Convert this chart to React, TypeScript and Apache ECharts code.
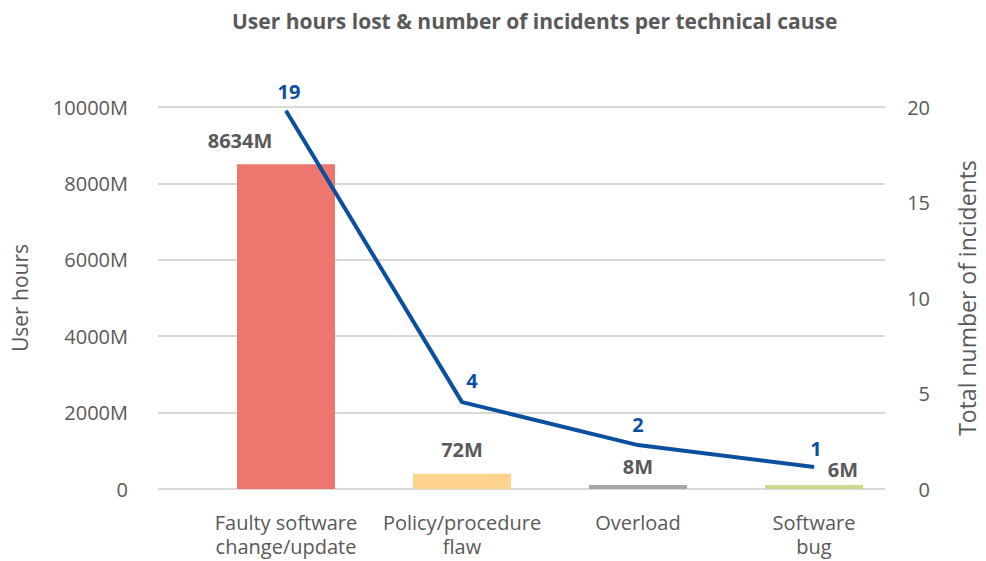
import React, { useEffect, useRef } from "react";
import * as echarts from "echarts";

const title = "User hours lost & number of incidents per technical cause";
const categories = ["Faulty software\nchange/update", "Policy/procedure\nflaw", "Overload", "Software\nbug"];
// values printed on the labels
const userHoursM = [8634, 72, 8, 6];
const incidents = [19, 4, 2, 1];
// heights as drawn in the picture (axis units)
const barDrawn = [8500, 400, 105, 105];
const lineDrawn = [19.8, 4.55, 2.3, 1.15];
const leftTicksMax = 10000;
const rightTicksMax = 20;

const barColors = ["#ED766E", "#FDD38D", "#A6A6A6", "#C9DB8C"];
const barLabelOffsets = [[-46, -9], [0, -9], [0, -3], [29, 0]];
const lineLabelOffsets = [[3, -4], [10, -6], [0, -5], [2, -3]];

const FONT = "'Open Sans', 'Noto Sans', sans-serif";
const GREY = "#595959";
const BLUE = "#0B4F9F";
const FS = 20;

export default function App() {
  const ref = useRef<HTMLDivElement>(null);
  useEffect(() => {
    if (!ref.current) return;
    const chart = echarts.init(ref.current, undefined, { renderer: "svg" });
    chart.setOption({
      animation: false,
      textStyle: { fontFamily: FONT },
      title: {
        text: title,
        left: 227,
        top: 5,
        textStyle: { fontFamily: FONT, fontSize: 21, fontWeight: "bold", color: GREY },
      },
      grid: [
        { left: 158, right: 94, top: 107, bottom: 72 },
        { left: 198, right: 84, top: 107, bottom: 72 },
      ],
      xAxis: [
        { type: "category", gridIndex: 0, data: categories, show: false },
        {
          type: "category",
          gridIndex: 1,
          data: categories,
          axisLine: { show: false },
          axisTick: { show: false },
          axisLabel: { color: GREY, fontSize: FS, fontFamily: FONT, margin: 21, lineHeight: 24, interval: 0 },
        },
      ],
      yAxis: [
        {
          type: "value",
          gridIndex: 0,
          min: 0,
          max: leftTicksMax,
          interval: 2000,
          name: "User hours",
          nameLocation: "middle",
          nameGap: 128,
          nameTextStyle: { color: GREY, fontSize: 21, fontFamily: FONT },
          axisLine: { show: false },
          axisTick: { show: false },
          axisLabel: {
            color: GREY,
            fontSize: FS,
            fontFamily: FONT,
            margin: 30,
            formatter: (v: number) => (v === 0 ? "0" : v + "M"),
          },
          splitLine: { lineStyle: { color: "#D9D9D9", width: 2 } },
        },
        {
          type: "value",
          gridIndex: 0,
          position: "right",
          min: 0,
          max: rightTicksMax,
          interval: 5,
          name: "Total number of incidents",
          nameLocation: "middle",
          nameGap: 70,
          nameRotate: 90,
          nameTextStyle: { color: GREY, fontSize: 23, fontFamily: FONT },
          axisLine: { show: false },
          axisTick: { show: false },
          axisLabel: { color: GREY, fontSize: FS, fontFamily: FONT, margin: 45, align: "right" },
          splitLine: { show: false },
        },
        { type: "value", gridIndex: 1, min: 0, max: leftTicksMax, show: false, splitLine: { show: false } },
        { type: "value", gridIndex: 1, min: 0, max: rightTicksMax, show: false, splitLine: { show: false } },
      ],
      series: [
        {
          type: "bar",
          name: "User hours",
          xAxisIndex: 1,
          yAxisIndex: 2,
          barWidth: 98,
          data: barDrawn.map((v, i) => ({
            value: v,
            itemStyle: { color: barColors[i] },
            label: { offset: barLabelOffsets[i] },
          })),
          label: {
            show: true,
            position: "top",
            color: GREY,
            fontSize: FS,
            fontWeight: "bold",
            fontFamily: FONT,
            formatter: (p: any) => userHoursM[p.dataIndex] + "M",
          },
        },
        {
          type: "line",
          name: "Incidents",
          xAxisIndex: 1,
          yAxisIndex: 3,
          symbol: "circle",
          symbolSize: 1,
          itemStyle: { color: BLUE },
          lineStyle: { color: BLUE, width: 4 },
          data: lineDrawn.map((v, i) => ({ value: v, label: { offset: lineLabelOffsets[i] } })),
          label: {
            show: true,
            position: "top",
            color: BLUE,
            fontSize: FS,
            fontWeight: "bold",
            fontFamily: FONT,
            formatter: (p: any) => String(incidents[p.dataIndex]),
          },
          z: 5,
        },
      ],
    });
    return () => chart.dispose();
  }, []);
  return <div ref={ref} style={{ position: "absolute", left: 0, top: 0, width: 986, height: 561 }} />;
}
